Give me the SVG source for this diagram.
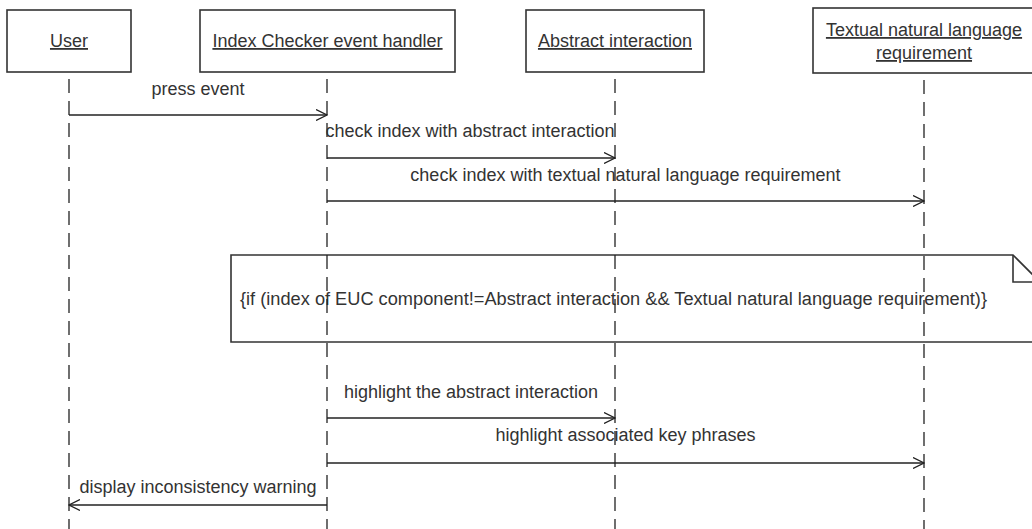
<svg xmlns="http://www.w3.org/2000/svg" width="1032" height="529" viewBox="0 0 1032 529">
<defs>
<style>
.box{fill:#fff;stroke:#333;stroke-width:1.6}
.life{stroke:#222;stroke-width:1.3;stroke-dasharray:14 8;fill:none}
.msg{stroke:#222;stroke-width:1.3;fill:none;marker-end:url(#arr)}
.t{font-family:"Liberation Sans",Arial,sans-serif;font-size:18px;fill:#333}
.title{text-decoration:underline;text-anchor:middle}
.lbl{text-anchor:middle}
.note{fill:none;stroke:#333;stroke-width:1.6}
</style>
<marker id="arr" viewBox="0 0 12 12" refX="11" refY="6" markerWidth="12" markerHeight="12" markerUnits="userSpaceOnUse" orient="auto">
<path d="M0,0.5 L11,6 L0,11.5" fill="none" stroke="#222" stroke-width="1.3"/>
</marker>
</defs>
<rect width="1032" height="529" fill="#fff"/>

<g id="note">
<path class="note" d="M231,255 H1013 L1040,282 V342 H231 Z"/>
<path class="note" d="M1013,255 V282 H1040"/>
<text class="t" x="240" y="305" textLength="747" lengthAdjust="spacingAndGlyphs">{if (index of EUC component!=Abstract interaction &amp;&amp; Textual natural language requirement)}</text>
</g>

<g id="user">
<rect class="box" x="7" y="10" width="124" height="62"/>
<text class="t title" x="69" y="47">User</text>
<line class="life" x1="69" y1="79" x2="69" y2="529"/>
</g>
<g id="handler">
<rect class="box" x="200" y="10" width="255" height="62"/>
<text class="t title" x="327.5" y="47">Index Checker event handler</text>
<line class="life" x1="327" y1="79" x2="327" y2="529"/>
</g>
<g id="abstract">
<rect class="box" x="526" y="10" width="178" height="62"/>
<text class="t title" x="615" y="47">Abstract interaction</text>
<line class="life" x1="615" y1="79" x2="615" y2="529"/>
</g>
<g id="textual">
<rect class="box" x="813" y="8" width="224" height="65"/>
<text class="t title" x="924" y="36">Textual natural language</text>
<text class="t title" x="924" y="59">requirement</text>
<line class="life" x1="924" y1="80" x2="924" y2="529"/>
</g>

<g id="connectors">
<line class="msg" x1="69" y1="115" x2="327" y2="115"/>
<text class="t lbl" x="198" y="95">press event</text>
<line class="msg" x1="327" y1="158" x2="615" y2="158"/>
<text class="t lbl" x="470" y="137">check index with abstract interaction</text>
<line class="msg" x1="327" y1="201" x2="924" y2="201"/>
<text class="t lbl" x="625.5" y="181">check index with textual natural language requirement</text>
<line class="msg" x1="327" y1="418" x2="615" y2="418"/>
<text class="t lbl" x="471" y="398">highlight the abstract interaction</text>
<line class="msg" x1="327" y1="463" x2="924" y2="463"/>
<text class="t lbl" x="625.5" y="441">highlight associated key phrases</text>
<line class="msg" x1="327" y1="505" x2="69" y2="505"/>
<text class="t lbl" x="198" y="493">display inconsistency warning</text>
</g>
</svg>
